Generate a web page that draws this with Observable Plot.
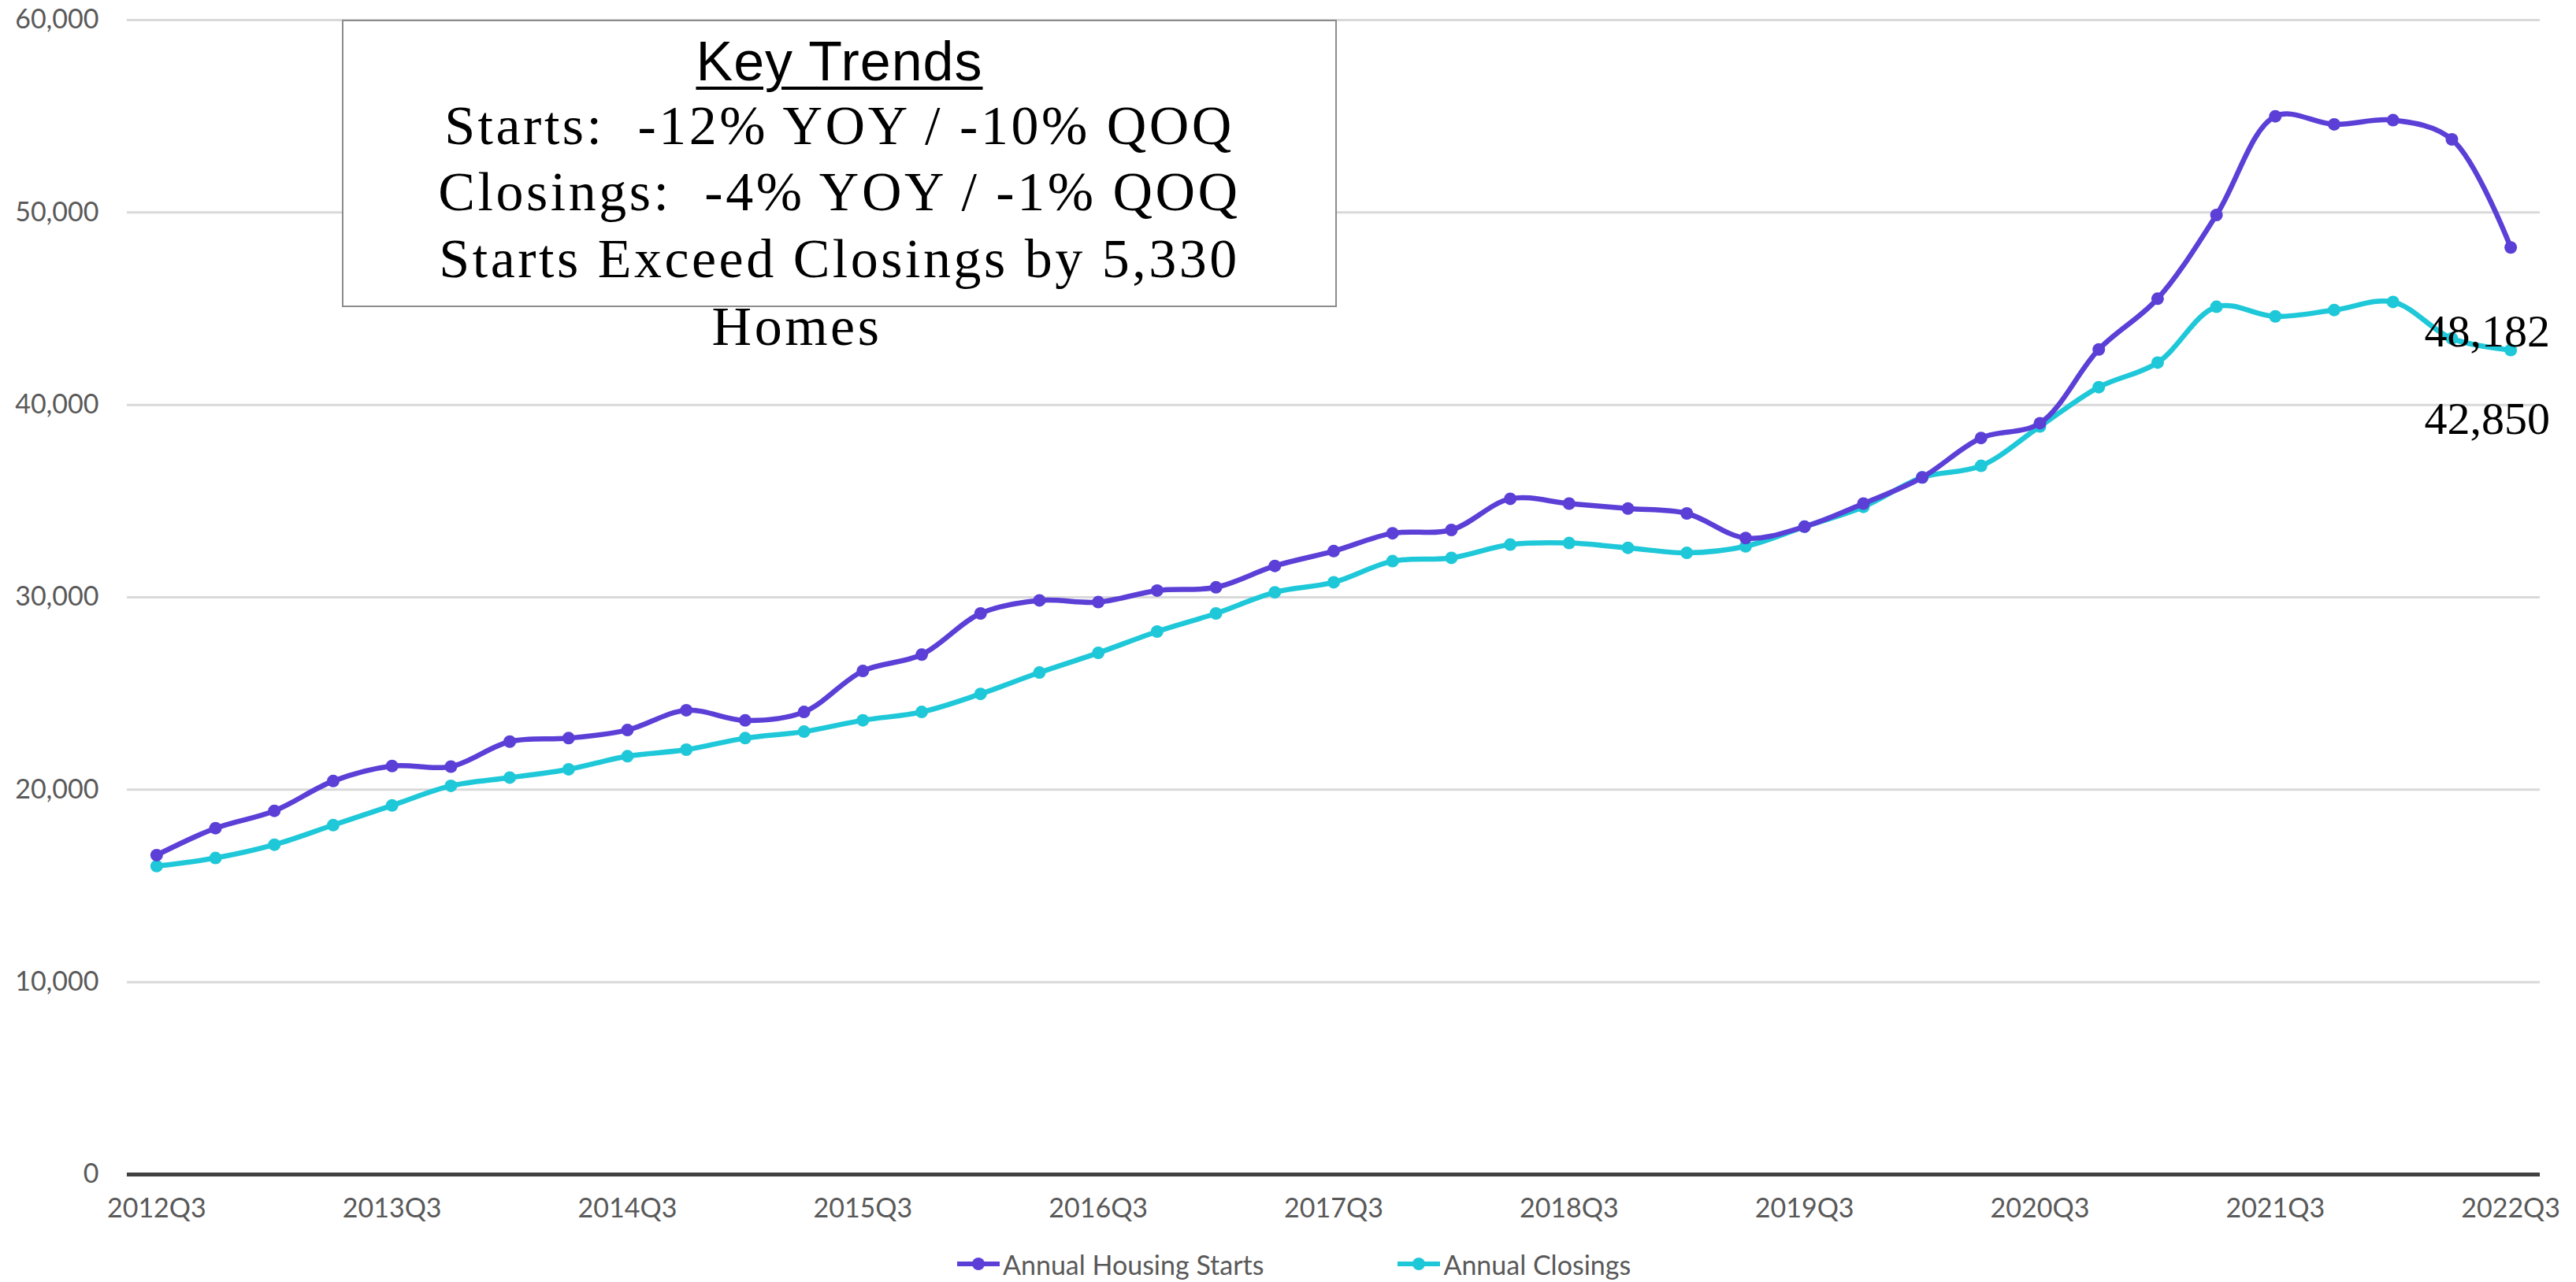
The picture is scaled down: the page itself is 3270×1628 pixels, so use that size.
<!DOCTYPE html>
<html><head><meta charset="utf-8">
<script src="https://cdn.jsdelivr.net/npm/d3@7"></script>
<script src="https://cdn.jsdelivr.net/npm/@observablehq/plot@0.6"></script>
<style>
html,body{margin:0;padding:0;background:#fff;}
#wrap{position:relative;width:3270px;height:1628px;overflow:hidden;}
#box{position:absolute;left:434px;top:25px;width:1263px;height:365px;border:2px solid #8c8c8c;box-sizing:border-box;background:#fff;}
.ln{position:absolute;left:0;width:100%;text-align:center;font-family:"Liberation Serif","Times New Roman",serif;font-size:70px;letter-spacing:3.5px;color:#000;line-height:1;white-space:nowrap;}
.kt{font-family:"Liberation Sans",Arial,sans-serif;font-size:70px;letter-spacing:1px;text-decoration:underline;text-decoration-thickness:4px;text-underline-offset:8px;}
#legend{position:absolute;left:1213px;top:1582px;height:46px;display:flex;align-items:center;gap:168px;font-family:Lato,sans-serif;font-size:34px;color:#595959;}
#legend .it{display:flex;align-items:center;gap:2px;}
</style>
</head><body>
<div id="wrap">
  <div id="chart"></div>
  <div id="box">
    <div class="ln kt" style="top:16px">Key Trends</div>
    <div class="ln" style="top:98px">Starts:&nbsp; -12% YOY / -10% QOQ</div>
    <div class="ln" style="top:182px">Closings:&nbsp; -4% YOY / -1% QOQ</div>
    <div class="ln" style="top:267px">Starts Exceed Closings by 5,330</div>
    <div class="ln" style="top:353px;left:-54px">Homes</div>
  </div>
  <div id="legend"></div>
</div>
<script>
const quarters = ["2012Q3","2012Q4","2013Q1","2013Q2","2013Q3","2013Q4","2014Q1","2014Q2","2014Q3","2014Q4",
  "2015Q1","2015Q2","2015Q3","2015Q4","2016Q1","2016Q2","2016Q3","2016Q4","2017Q1","2017Q2",
  "2017Q3","2017Q4","2018Q1","2018Q2","2018Q3","2018Q4","2019Q1","2019Q2","2019Q3","2019Q4",
  "2020Q1","2020Q2","2020Q3","2020Q4","2021Q1","2021Q2","2021Q3","2021Q4","2022Q1","2022Q2","2022Q3"];
const starts = [16600,18000,18900,20450,21230,21200,22500,22680,23100,24130,
  23600,24040,26170,27020,29160,29840,29750,30350,30520,31630,
  32400,33330,33500,35120,34870,34610,34360,33080,33670,34870,
  36230,38280,39050,42880,45520,49870,55000,54580,54800,53800,48182];
const closings = [16030,16450,17140,18160,19180,20200,20630,21060,21740,22080,
  22680,23020,23610,24040,24980,26090,27110,28220,29160,30260,
  30780,31880,32050,32740,32820,32570,32310,32650,33670,34700,
  36230,36830,38880,40920,42200,45100,44600,44930,45350,43450,42850];
const xTicks = ["2012Q3","2013Q3","2014Q3","2015Q3","2016Q3","2017Q3","2018Q3","2019Q3","2020Q3","2021Q3","2022Q3"];
const yTicks = [0,10000,20000,30000,40000,50000,60000];
const seriesNames = ["Annual Housing Starts","Annual Closings"];
const seriesColors = ["#5b3fd6","#1ec8d8"];

const startsData = quarters.map((q,i)=>({q, v: starts[i]}));
const closingsData = quarters.map((q,i)=>({q, v: closings[i]}));
const fmt = d3.format(",");

const chart = Plot.plot({
  width: 3270, height: 1580,
  marginTop: 25, marginBottom: 89, marginLeft: 161, marginRight: 46,
  style: {fontFamily: "Lato, sans-serif", fontSize: "34px", color: "#595959", background: "transparent"},
  x: {type: "point", domain: quarters, padding: 0.5, round: false, label: null},
  y: {domain: [0, 60000], label: null},
  marks: [
    Plot.ruleY(yTicks.filter(d => d > 0), {stroke: "#d9d9d9", strokeWidth: 3}),
    Plot.ruleY([0], {stroke: "#404040", strokeWidth: 5}),
    Plot.axisY({ticks: yTicks, tickSize: 0, tickPadding: 36, tickFormat: fmt, fontSize: 34}),
    Plot.axisX({ticks: xTicks, tickSize: 0, tickPadding: 30, fontSize: 34}),
    Plot.line(closingsData, {x: "q", y: "v", stroke: seriesColors[1], strokeWidth: 6.5, curve: "catmull-rom"}),
    Plot.dot(closingsData, {x: "q", y: "v", fill: seriesColors[1], r: 8}),
    Plot.line(startsData, {x: "q", y: "v", stroke: seriesColors[0], strokeWidth: 6.5, curve: "catmull-rom"}),
    Plot.dot(startsData, {x: "q", y: "v", fill: seriesColors[0], r: 8}),
    Plot.text([startsData[startsData.length-1]], {x: "q", y: "v", text: d => fmt(d.v), dx: -30, dy: 107, fontFamily: "Liberation Serif, Times New Roman, serif", fontSize: 58, fill: "#000"}),
    Plot.text([closingsData[closingsData.length-1]], {x: "q", y: "v", text: d => fmt(d.v), dx: -30, dy: 88, fontFamily: "Liberation Serif, Times New Roman, serif", fontSize: 58, fill: "#000"})
  ]
});
document.getElementById("chart").appendChild(chart);

const legend = document.getElementById("legend");
seriesNames.forEach((name, i) => {
  const it = document.createElement("div");
  it.className = "it";
  it.innerHTML = `<svg width="58" height="20"><line x1="2" y1="10" x2="56" y2="10" stroke="${seriesColors[i]}" stroke-width="6"/><circle cx="29" cy="10" r="8" fill="${seriesColors[i]}"/></svg><span>${name}</span>`;
  legend.appendChild(it);
});
</script>
</body></html>
